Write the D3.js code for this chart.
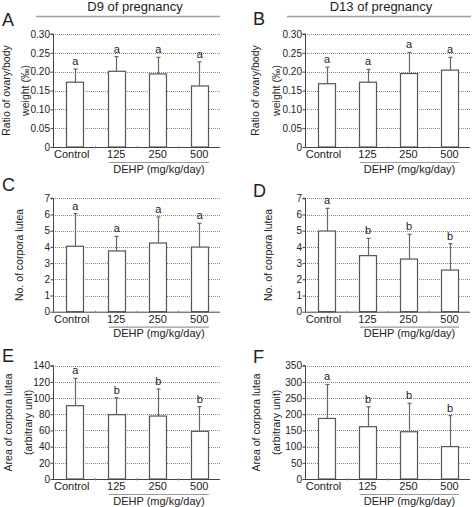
<!DOCTYPE html>
<html><head><meta charset="utf-8">
<script src="https://cdn.jsdelivr.net/npm/d3@7"></script>
<style>
html,body{margin:0;padding:0;background:#fff;}
svg text{font-family:"Liberation Sans",Arial,sans-serif;fill:#222;}
</style>
</head><body>
<svg id="c" width="472" height="507"></svg>
<script>
const categories = ["Control","125","250","500"];
const ratioD9 = [0.172,0.201,0.194,0.162];
const ratioD9Err = [0.035,0.039,0.044,0.064];
const ratioD13 = [0.168,0.172,0.195,0.204];
const ratioD13Err = [0.044,0.034,0.056,0.034];
const clD9 = [4.04,3.75,4.24,3.99];
const clD9Err = [2.01,0.90,1.61,1.47];
const clD13 = [4.98,3.46,3.25,2.57];
const clD13Err = [1.40,1.07,1.53,1.63];
const areaD9 = [90.6,79.5,77.8,58.9];
const areaD9Err = [33.8,21.0,33.4,30.5];
const areaD13 = [187,161.6,146,100];
const areaD13Err = [105,61.4,88,96];
const lettersA = ["a","a","a","a"];
const lettersB = ["a","a","a","a"];
const lettersC = ["a","a","a","a"];
const lettersD = ["a","b","b","b"];
const lettersE = ["a","b","b","b"];
const lettersF = ["a","b","b","b"];
const ratioTicks = [0,0.05,0.10,0.15,0.20,0.25,0.30];
const ratioTickLabels = ["0","0.05","0.10","0.15","0.20","0.25","0.30"];
const clTicks = [0,1,2,3,4,5,6,7];
const areaD9Ticks = [0,20,40,60,80,100,120,140];
const areaD13Ticks = [0,50,100,150,200,250,300,350];
const headers = ["D9 of pregnancy","D13 of pregnancy"];
const xGroupLabel = "DEHP (mg/kg/day)";

const svg = d3.select("#c");
const cols = [{x0:53,x1:220,lx:2,hx:135,hl0:36,hl1:220},{x0:305,x1:470,lx:253,hx:381,hl0:287,hl1:471}];
const rows = [{top:34,zero:147},{top:198.3,zero:311.7},{top:365.7,zero:479}];

const panels = [
 {c:0,r:0,letter:"A",ly:26,vals:ratioD9,errs:ratioD9Err,sig:lettersA,ticks:ratioTicks,tl:ratioTickLabels,title:["Ratio of ovary/body","weight (‰)"],tx:[6.5,26]},
 {c:1,r:0,letter:"B",ly:25,vals:ratioD13,errs:ratioD13Err,sig:lettersB,ticks:ratioTicks,tl:ratioTickLabels,title:["Ratio of ovary/body","weight (‰)"],tx:[256,277]},
 {c:0,r:1,letter:"C",ly:191,vals:clD9,errs:clD9Err,sig:lettersC,ticks:clTicks,tl:clTicks.map(String),title:["No. of corpora lutea"],tx:[20]},
 {c:1,r:1,letter:"D",ly:197,vals:clD13,errs:clD13Err,sig:lettersD,ticks:clTicks,tl:clTicks.map(String),title:["No. of corpora lutea"],tx:[269]},
 {c:0,r:2,letter:"E",ly:362,vals:areaD9,errs:areaD9Err,sig:lettersE,ticks:areaD9Ticks,tl:areaD9Ticks.map(String),title:["Area of corpora lutea","(arbitrary unit)"],tx:[9,29]},
 {c:1,r:2,letter:"F",ly:363,vals:areaD13,errs:areaD13Err,sig:lettersF,ticks:areaD13Ticks,tl:areaD13Ticks.map(String),title:["Area of corpora lutea","(arbitrary unit)"],tx:[257,277]}
];

// headers
cols.forEach((c,i)=>{
  svg.append("text").attr("x",c.hx).attr("y",11).attr("text-anchor","middle")
    .attr("font-size",13).text(headers[i]);
  svg.append("line").attr("x1",c.hl0).attr("x2",c.hl1).attr("y1",16.5).attr("y2",16.5)
    .attr("stroke","#a0a0a0").attr("stroke-width",1.6);
});

const barW = 17;
panels.forEach(p=>{
  const c = cols[p.c], r = rows[p.r];
  const g = svg.append("g");
  const x = d3.scalePoint().domain(categories).range([c.x0+1,c.x1]).padding(0.5);
  const y = d3.scaleLinear().domain([0,p.ticks[p.ticks.length-1]]).range([r.zero,r.top]);
  // panel letter
  svg.append("text").attr("x",c.lx).attr("y",p.ly).attr("font-size",18).text(p.letter);
  // grid
  g.selectAll(".grid").data(p.ticks.slice(1)).join("line")
    .attr("x1",c.x0).attr("x2",c.x1).attr("y1",d=>Math.round(y(d))+0.5).attr("y2",d=>Math.round(y(d))+0.5)
    .attr("stroke","#8a8a8a").attr("stroke-width",1).attr("stroke-dasharray","1,1");
  // y axis
  const yAxis = d3.axisLeft(y).tickValues(p.ticks).tickFormat((d,i)=>p.tl[i]).tickSize(3).tickPadding(0.5);
  const ya = g.append("g").attr("transform",`translate(${c.x0+0.5},0)`).call(yAxis);
  ya.select(".domain").attr("stroke","#444").attr("d",`M-3,${y(p.ticks[p.ticks.length-1])}H0V${r.zero}`);
  ya.selectAll(".tick line").attr("stroke","#444");
  ya.selectAll(".tick text").attr("font-size",10).attr("fill","#222").attr("font-family","Liberation Sans, Arial, sans-serif");
  // y title
  p.title.forEach((t,i)=>{
    svg.append("text").attr("transform",`translate(${p.tx[i]+3},${(r.top+r.zero)/2}) rotate(-90)`)
      .attr("text-anchor","middle").attr("font-size",10.5).text(t);
  });
  // bars
  g.selectAll(".bar").data(p.vals).join("rect")
    .attr("x",(d,i)=>Math.round(x(categories[i])-barW/2)+0.5).attr("width",barW)
    .attr("y",d=>y(d)).attr("height",d=>r.zero-y(d))
    .attr("fill","#fff").attr("stroke","#555").attr("stroke-width",1.2);
  // error bars
  g.selectAll(".err").data(p.vals).join("line")
    .attr("x1",(d,i)=>Math.round(x(categories[i]))+0.5).attr("x2",(d,i)=>Math.round(x(categories[i]))+0.5)
    .attr("y1",d=>y(d)).attr("y2",(d,i)=>y(d+p.errs[i]))
    .attr("stroke","#666").attr("stroke-width",1.2);
  g.selectAll(".cap").data(p.vals).join("line")
    .attr("x1",(d,i)=>Math.round(x(categories[i]))-1.5).attr("x2",(d,i)=>Math.round(x(categories[i]))+2.5)
    .attr("y1",(d,i)=>y(d+p.errs[i])).attr("y2",(d,i)=>y(d+p.errs[i]))
    .attr("stroke","#666").attr("stroke-width",1.2);
  g.selectAll(".sig").data(p.vals).join("text")
    .attr("x",(d,i)=>x(categories[i])+0.5).attr("y",(d,i)=>y(d+p.errs[i])-4)
    .attr("text-anchor","middle").attr("font-size",11).attr("fill","#222").text((d,i)=>p.sig[i]);
  // x axis line
  g.append("line").attr("x1",c.x0).attr("x2",c.x1).attr("y1",r.zero+0.5).attr("y2",r.zero+0.5)
    .attr("stroke","#444").attr("stroke-width",1);
  // tiny ticks between categories
  const step = x.step();
  g.selectAll(".xt").data(categories.slice(1)).join("line")
    .attr("x1",d=>x(d)-step/2).attr("x2",d=>x(d)-step/2)
    .attr("y1",r.zero-1).attr("y2",r.zero+1.5).attr("stroke","#888");
  // x labels
  g.selectAll(".xl").data(categories).join("text")
    .attr("x",d=>x(d)+(d==="Control"?-3:0)).attr("y",r.zero+11).attr("text-anchor","middle")
    .attr("font-size",11).text(d=>d);
  // group line + label
  const gl0 = Math.round(x(categories[1])-barW/2)+1, gl1 = Math.round(x(categories[3])+barW/2)+1;
  g.append("line").attr("x1",gl0).attr("x2",gl1).attr("y1",r.zero+15.5).attr("y2",r.zero+15.5)
    .attr("stroke","#999").attr("stroke-width",1.2);
  g.append("text").attr("x",(gl0+gl1)/2).attr("y",r.zero+25.5).attr("text-anchor","middle")
    .attr("font-size",11).text(xGroupLabel);
});
</script>
</body></html>
